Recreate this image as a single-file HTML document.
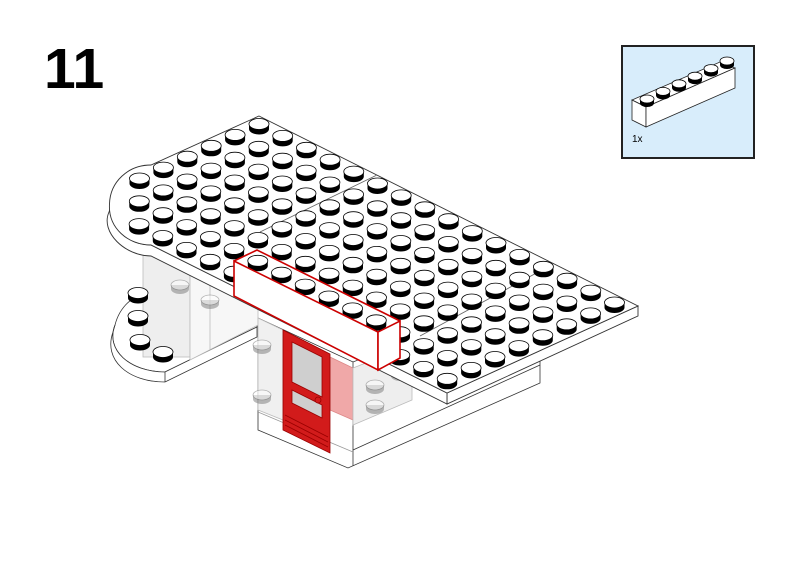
<!DOCTYPE html>
<html><head><meta charset="utf-8">
<style>
html,body{margin:0;padding:0;background:#fff;}
svg{display:block;}
</style></head>
<body>
<svg id="s" width="800" height="566" viewBox="0 0 800 566" xmlns="http://www.w3.org/2000/svg" font-family="Liberation Sans, sans-serif">
<rect width="800" height="566" fill="#fff"/>
<text x="44" y="88" font-size="57" font-weight="bold" letter-spacing="0">11</text>

<!-- parts box -->
<rect x="622" y="46" width="132" height="112" fill="#d8edfb" stroke="#222" stroke-width="2"/>
<g stroke="#222" stroke-width="0.8" fill="#fff">
<polygon points="632,100 720,62 735,68 646,107"/>
<polygon points="632,100 646,107 646,127 632,120"/>
<polygon points="646,107 735,68 735,88 646,127"/>
</g>
<g id="ps"></g>
<text x="632" y="142" font-size="10">1x</text>

<!-- lower structures -->
<g stroke="#333" stroke-width="0.8">
 <polygon points="258,318 353,362 540,290 540,383 348,468 258,430" fill="#fff"/>
 <line x1="353" y1="362" x2="353" y2="466"/>
 <line x1="258" y1="412" x2="353" y2="452" stroke="#999"/>
 <line x1="353" y1="450" x2="540" y2="365"/>
 <path d="M257,327 L165,372 C130,372 105,350 115,325 C120,305 135,295 150,290 L230,290 L257,300 Z" fill="#fff"/>
 <path d="M257,327 L257,337 L165,382 C128,382 103,360 113,332 L115,325 C105,350 130,372 165,372 Z" fill="#fff"/>
 <line x1="165" y1="372" x2="165" y2="382"/>
 <rect x="143" y="255" width="47" height="102" fill="#eeeeee" stroke="#bbb"/>
 <polygon points="190,258 258,290 258,325 190,360" fill="#f7f7f7" stroke="#bbb"/>
 <line x1="210" y1="262" x2="210" y2="350" stroke="#bbb"/>
 <polygon points="258,318 283,330 283,420 258,410" fill="#f0f0f0" stroke="#bbb"/>
 <polygon points="330,357 353,368 353,420 330,410" fill="#f0a8a8" stroke="#d88"/>
 <polygon points="353,368 412,345 412,400 353,425" fill="#eeeeee" stroke="#bbb"/>
 <polygon points="283,330 330,354 330,453 283,430" fill="#d21b1b" stroke="#900"/>
 <polygon points="292,342 322,357 322,397 292,382" fill="#cfcfcf" stroke="#900"/>
 <polygon points="292,390 322,405 322,418 292,403" fill="#cfcfcf" stroke="#900"/>
 <circle cx="318" cy="400" r="3" fill="#d21b1b" stroke="#900"/>
 <line x1="285" y1="415" x2="328" y2="437" stroke="#900"/>
 <line x1="285" y1="420" x2="328" y2="442" stroke="#900"/>
 <line x1="285" y1="425" x2="328" y2="447" stroke="#900"/>
</g>
<g id="ls"></g>

<!-- main plate -->
<g stroke="#333" stroke-width="0.9" fill="#fff">
 <path d="M447,393 L638,306 L638,316 L447,404 Z"/>
 <path d="M447,393 L447,404 L151,256 C125,256 100,232 109,212 L111,206 C110,228 128,245 151,245 Z"/>
 <path d="M259,116 L638,306 L447,393 L151,245 C128,245 108,228 109.5,204 C110,182 128,165 151,165 Z"/>
 <line x1="260" y1="232" x2="377" y2="175" stroke="#666"/>
 <line x1="420" y1="336" x2="542" y2="270" stroke="#666"/>
</g>
<g id="st"></g>

<!-- red-outlined 1x6 brick -->
<g stroke="#c00" stroke-width="1.6" fill="#fff">
 <polygon points="234,261 378,332 378,370 234,296"/>
 <polygon points="378,332 400,321 400,358 378,370"/>
</g>
<polyline points="234,261 257,250 400,321" fill="none" stroke="#c00" stroke-width="1.6"/>

<script>
var NS="http://www.w3.org/2000/svg";
function stud(g,x,y,rx,ry,h,col,op){
 var a=document.createElementNS(NS,"path");
 a.setAttribute("d","M"+(x-rx)+","+y+" L"+(x-rx)+","+(y+h)+" A"+rx+","+ry+" 0 0 0 "+(x+rx)+","+(y+h)+" L"+(x+rx)+","+y+" Z");
 a.setAttribute("fill",col||"#000");
 if(op)a.setAttribute("opacity",op);
 g.appendChild(a);
 var e=document.createElementNS(NS,"ellipse");
 e.setAttribute("cx",x);e.setAttribute("cy",y);e.setAttribute("rx",rx);e.setAttribute("ry",ry);
 e.setAttribute("fill","#fff");e.setAttribute("stroke",col||"#000");e.setAttribute("stroke-width","0.8");
 if(op)e.setAttribute("opacity",op);
 g.appendChild(e);
}
var st=document.getElementById("st");
var miss={"0,6":1,"0,7":1,"1,7":1};
var pts=[];
for(var i=0;i<16;i++)for(var j=0;j<8;j++){
 if(miss[i+","+j])continue;
 pts.push([259+23.7*i-23.9*j,127+11.9*i+10.9*j]);
}
pts.sort(function(a,b){return a[1]-b[1];});
pts.forEach(function(p){stud(st,p[0],p[1]-3,10,5.5,5);});
var ls=document.getElementById("ls");
[[138,296],[138,319],[140,343],[163,355]].forEach(function(p){stud(ls,p[0],p[1]-3,10,5.5,5);});
[[180,285],[210,300],[262,345],[262,395],[375,385],[375,405],[400,372]].forEach(function(p){stud(ls,p[0],p[1],9,5,4,"#777","0.5");});
var ps=document.getElementById("ps");
for(var k=0;k<6;k++){stud(ps,647+16*k,101-7.6*k-2,7,4,4);}
</script>
</svg>
</body></html>
